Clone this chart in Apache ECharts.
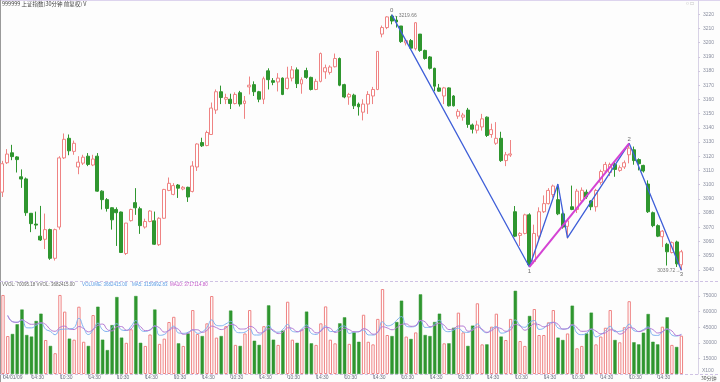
<!DOCTYPE html>
<html><head><meta charset="utf-8">
<script src="https://cdn.jsdelivr.net/npm/echarts@6/dist/echarts.min.js"></script>
<style>html,body{margin:0;padding:0;background:#fdfdfd}#c{width:720px;height:382px}</style>
</head><body><div id="c"></div>
<script>
// ---- data ----
const opens = [
3094.7,3115.4,3122.4,3119.5,3105.5,3104.0,3079.8,3072.2,3063.7,3061.5,
3068.3,3048.1,3070.1,3118.8,3132.6,3123.4,3112.4,3115.1,3120.0,3113.8,
3120.0,3095.4,3089.4,3083.7,3082.5,3080.7,3051.5,3074.6,3087.3,3083.0,
3070.1,3074.0,3074.5,3057.7,3076.3,3095.9,3093.1,3099.7,3096.9,3098.1,
3095.2,3112.4,3129.6,3127.5,3135.3,3152.5,3165.4,3160.1,3160.1,3157.1,
3164.7,3157.1,3168.8,3170.4,3165.4,3160.1,3180.1,3173.2,3172.3,3175.0,
3167.7,3175.0,3180.8,3170.9,3180.3,3175.5,3167.0,3172.7,3179.4,3179.0,
3183.0,3188.8,3170.4,3161.7,3163.0,3156.7,3151.0,3156.7,3162.4,3167.0,
3206.0,3210.6,3218.6,3215.9,3211.7,3199.8,3201.4,3195.7,3206.0,3194.5,
3189.9,3181.9,3168.1,3162.4,3168.1,3162.4,3148.2,3147.5,3152.5,3142.0,
3138.3,3140.6,3147.5,3135.3,3129.1,3132.6,3116.9,3120.8,3080.9,3064.2,
3065.6,3078.7,3045.8,3063.7,3080.9,3086.6,3093.0,3089.4,3079.4,3070.6,
3084.4,3082.5,3088.5,3094.7,3088.5,3084.4,3101.6,3109.6,3108.5,3114.2,
3110.0,3112.4,3121.0,3124.5,3117.6,3113.5,3100.4,3080.2,3071.1,3063.3,
3058.0,3052.2,3059.6,3043.5];
const closes = [
3114.7,3121.5,3119.7,3117.6,3103.9,3080.2,3072.5,3071.5,3061.0,3068.3,
3048.1,3068.3,3118.8,3131.9,3123.8,3129.1,3115.8,3119.3,3114.2,3118.0,
3095.4,3089.4,3083.2,3075.2,3080.2,3052.2,3072.9,3082.5,3083.7,3071.1,
3074.0,3081.4,3058.0,3076.3,3096.6,3100.9,3099.3,3097.5,3098.1,3091.3,
3113.1,3128.6,3127.3,3136.7,3153.9,3165.4,3161.3,3161.3,3157.1,3163.5,
3156.7,3158.9,3170.0,3165.4,3160.1,3174.6,3173.9,3172.0,3175.0,3163.5,
3175.0,3180.8,3171.1,3173.9,3175.5,3167.0,3172.7,3192.3,3182.3,3182.8,
3188.8,3170.0,3161.7,3163.5,3155.5,3154.8,3156.7,3163.5,3167.0,3193.8,
3210.6,3218.1,3215.2,3214.5,3200.7,3201.4,3196.1,3214.0,3194.5,3188.8,
3181.9,3169.3,3165.8,3168.1,3155.5,3155.5,3151.6,3149.0,3142.4,3139.0,
3142.0,3146.3,3134.6,3138.7,3132.6,3116.9,3121.0,3121.6,3063.7,3065.6,
3078.7,3043.6,3065.6,3080.9,3086.6,3095.9,3099.0,3079.4,3070.1,3074.5,
3082.5,3095.4,3096.0,3091.3,3084.4,3095.9,3109.2,3114.2,3114.2,3110.7,
3111.9,3115.4,3125.7,3116.9,3114.7,3109.6,3080.9,3071.1,3063.7,3067.2,
3052.7,3059.1,3044.2,3052.7];
const lows = [
3091.3,3114.5,3117.2,3108.5,3097.7,3078.0,3066.5,3068.6,3060.3,3054.6,
3047.0,3046.5,3068.3,3118.0,3120.7,3121.0,3107.3,3113.8,3113.0,3113.0,
3095.0,3082.5,3081.0,3068.3,3056.8,3051.8,3050.4,3074.0,3078.7,3065.3,
3069.0,3073.5,3057.5,3056.8,3076.0,3095.4,3092.5,3090.6,3096.0,3087.8,
3094.5,3109.6,3126.5,3127.0,3135.0,3149.8,3156.7,3156.7,3153.2,3156.5,
3155.0,3146.3,3163.5,3162.4,3158.0,3156.7,3167.0,3170.0,3165.6,3163.0,
3167.0,3172.7,3168.0,3164.0,3174.5,3166.3,3166.5,3172.0,3174.5,3177.5,
3182.5,3169.3,3160.8,3156.2,3153.2,3148.6,3145.2,3149.8,3156.7,3166.5,
3203.7,3209.5,3212.9,3210.6,3199.8,3198.0,3195.5,3194.5,3193.5,3188.0,
3181.0,3165.8,3165.4,3156.7,3155.0,3155.0,3146.3,3145.0,3140.0,3136.0,
3136.0,3138.0,3133.5,3133.0,3128.0,3116.0,3113.0,3119.5,3063.0,3056.8,
3065.0,3042.0,3044.5,3061.0,3080.0,3086.0,3091.0,3078.5,3069.0,3062.0,
3082.0,3080.0,3087.0,3090.0,3082.0,3081.0,3100.0,3108.0,3106.0,3105.5,
3109.0,3111.0,3115.0,3114.0,3110.0,3108.5,3080.0,3070.0,3063.0,3056.0,
3043.0,3051.5,3042.0,3039.72];
const highs = [
3116.7,3125.0,3128.0,3120.0,3110.7,3105.0,3080.0,3081.0,3085.0,3079.6,
3069.0,3069.0,3120.0,3136.0,3135.3,3131.0,3120.0,3121.0,3122.2,3121.0,
3122.2,3096.0,3090.5,3084.0,3084.0,3081.0,3073.0,3083.0,3097.5,3084.4,
3076.0,3082.0,3081.0,3077.0,3097.0,3105.0,3101.0,3100.4,3099.0,3098.5,
3116.5,3129.1,3133.0,3138.0,3157.8,3167.0,3169.7,3164.0,3164.0,3165.0,
3166.0,3162.4,3176.1,3172.7,3166.0,3176.0,3181.9,3175.0,3178.5,3175.5,
3183.0,3183.5,3182.5,3175.5,3182.3,3176.0,3174.5,3193.0,3184.5,3184.0,
3192.3,3189.5,3171.0,3164.6,3164.0,3157.8,3160.1,3165.8,3168.8,3194.0,
3212.0,3218.6,3219.66,3218.6,3211.7,3202.5,3202.5,3214.5,3206.0,3195.0,
3190.5,3182.3,3170.9,3168.8,3168.5,3163.0,3153.2,3150.5,3154.0,3143.0,
3145.0,3149.8,3148.0,3142.9,3144.0,3137.2,3123.0,3131.4,3084.9,3066.5,
3079.5,3079.8,3071.8,3084.0,3092.4,3097.5,3100.0,3100.4,3080.5,3076.0,
3099.3,3097.0,3098.0,3096.5,3089.0,3097.0,3110.5,3116.0,3115.5,3116.0,
3113.5,3117.0,3129.1,3126.8,3118.5,3114.0,3103.0,3081.0,3072.0,3068.0,
3059.0,3060.0,3060.5,3054.0];
const volumes = [
76000,36500,38500,47800,62000,37500,36000,51000,58000,32700,
27000,20000,76000,60000,34000,33000,64700,31000,27000,56700,
64700,33000,23000,47000,74000,35000,30000,43000,75000,30000,
27000,38000,62000,29000,34000,50000,55000,29500,27000,39000,
61500,38500,36500,48700,75000,35000,36500,46000,61000,28000,
27000,39000,61500,32000,28000,46000,66000,33000,28000,41700,
69500,33000,30000,43000,60000,29500,28000,48700,65000,33000,
29500,48700,54500,29000,40000,31000,57000,31000,28500,53000,
81700,37500,36500,50000,70500,36000,33700,40000,76600,37500,
36500,50000,58000,29500,29500,44500,59000,40000,27000,46500,
68000,28500,28500,45500,58000,36000,32700,53000,80000,31700,
27000,55800,62500,37500,37500,49700,61500,35000,32700,39000,
65700,24700,27000,39000,59000,28500,36000,44500,61500,32700,
30500,45000,70000,30500,28500,39700,57700,31000,28500,45500,
54500,28000,26000,36824];
const tickPos  = [0,6,12,18,24,30,36,42,48,54,60,66,72,78,84,90,96,102,108,114,120,126,132,138];
const tickText = ['04/01/09','14:30','10:30','14:30','10:30','14:30','10:30','14:30','10:30','14:30','10:30','14:30',
                  '10:30','14:30','10:30','14:30','10:30','14:30','10:30','14:30','10:30','14:30','10:30','14:30'];
const slotCount = 147;
const zigIdx = [82,111,117,119,132,143];
const zigVal = [3219.66,3042.0,3100.4,3062.5,3129.1,3039.72];
const magIdx = [111,132];
const magVal = [3042.0,3129.1];
const pivotIdx = [82,111,132,143];
const pivotVal = [3219.66,3042.0,3129.1,3039.72];
const pivotName = ['0','1','2','3'];
const pivotPos = ['top','bottom','top','bottom'];

// ---- derived ----
const cats = Array.from({length: slotCount}, () => '');
tickPos.forEach((p, k) => { cats[p] = tickText[k]; });
const candles = opens.map((o, i) => [o, closes[i], lows[i], highs[i]]);
const UP = '#ef8383', DOWN = '#2f962f';
const volData = volumes.map((v, i) => {
  const up = closes[i] >= opens[i];
  return {value: v, itemStyle: up ? {color: '#ffffff', borderColor: UP, borderWidth: 1}
                                   : {color: DOWN, borderColor: DOWN, borderWidth: 0.5}};
});
function ma(n) {
  return volumes.map((v, i) => {
    if (i < 1) return '-';
    const s = Math.max(0, i - n + 1);
    let sum = 0; for (let k = s; k <= i; k++) sum += volumes[k];
    return +(sum / (i - s + 1)).toFixed(1);
  });
}
const F = 'Liberation Sans, DejaVu Sans, sans-serif';
const CJK = 'Noto Sans CJK SC, sans-serif';
const showTick = (i, v) => v !== '';
const plain = v => String(v);

const chart = echarts.init(document.getElementById('c'), null, {renderer: 'canvas'});
chart.setOption({
  animation: false,
  backgroundColor: '#fdfdfd',
  grid: [
    {left: 0, right: 22, top: -6.5, height: 290.5},
    {left: 0, right: 22, top: 280.4, height: 93.6}
  ],
  xAxis: [
    {type: 'category', gridIndex: 0, data: cats, boundaryGap: true,
     axisLine: {show: false}, axisTick: {show: false}, axisLabel: {show: false}, splitLine: {show: false}},
    {type: 'category', gridIndex: 1, data: cats, boundaryGap: true,
     axisLine: {show: false},
     axisTick: {show: true, interval: showTick, alignWithLabel: true, length: 4, lineStyle: {color: '#b8b8c8'}},
     axisLabel: {show: true, interval: showTick, align: 'left', fontSize: 5, color: '#6c7080', margin: 1.5, fontFamily: F},
     splitLine: {show: false}}
  ],
  yAxis: [
    {type: 'value', gridIndex: 0, position: 'right', min: 3030, max: 3230, interval: 10,
     axisLine: {show: true, lineStyle: {color: '#d8d2e6'}},
     axisTick: {show: true, length: 2, lineStyle: {color: '#d0c8de'}},
     splitLine: {show: false},
     axisLabel: {fontSize: 5, color: '#8a8fa0', margin: 5, showMinLabel: false, showMaxLabel: false, fontFamily: F, formatter: plain}},
    {type: 'value', gridIndex: 1, position: 'right', min: 0, max: 90000, interval: 15000,
     axisLine: {show: true, lineStyle: {color: '#d8d2e6'}},
     axisTick: {show: true, length: 2, lineStyle: {color: '#d0c8de'}},
     splitLine: {show: false},
     axisLabel: {fontSize: 5, color: '#8a8fa0', margin: 5, showMinLabel: false, showMaxLabel: false, fontFamily: F, formatter: plain}}
  ],
  series: [
    {type: 'candlestick', xAxisIndex: 0, yAxisIndex: 0, data: candles, barWidth: '72%',
     itemStyle: {color: '#ffffff', color0: DOWN, borderColor: UP, borderColor0: DOWN, borderWidth: 1}},
    {type: 'line', xAxisIndex: 0, yAxisIndex: 0, data: zigIdx.map((x, i) => [x, zigVal[i]]),
     symbol: 'none', lineStyle: {color: '#3f5fd8', width: 1.3}, z: 5},
    {type: 'line', xAxisIndex: 0, yAxisIndex: 0, data: magIdx.map((x, i) => [x, magVal[i]]),
     symbol: 'none', lineStyle: {color: '#d443d4', width: 2}, z: 6},
    {type: 'scatter', xAxisIndex: 0, yAxisIndex: 0, symbolSize: 0, z: 7,
     data: pivotIdx.map((x, i) => ({value: [x, pivotVal[i]],
       label: {show: true, position: pivotPos[i], distance: 1, formatter: pivotName[i],
               fontSize: 6, color: '#444', fontFamily: F}}))},
    {type: 'scatter', xAxisIndex: 0, yAxisIndex: 0, symbolSize: 0, z: 7,
     data: [
       {value: [pivotIdx[0], pivotVal[0]], label: {show: true, position: 'right', distance: 2,
         formatter: '\u2190' + pivotVal[0].toFixed(2), fontSize: 5, color: '#555', fontFamily: F, offset: [0, 1]}},
       {value: [pivotIdx[3], pivotVal[3]], label: {show: true, position: 'left', distance: 1,
         formatter: pivotVal[3].toFixed(2) + '\u2192', fontSize: 5, color: '#555', fontFamily: F}}
     ]},
    {type: 'bar', xAxisIndex: 1, yAxisIndex: 1, data: volData, barWidth: '70%'},
    {type: 'line', xAxisIndex: 1, yAxisIndex: 1, data: ma(5), symbol: 'none', smooth: true,
     lineStyle: {color: '#7fb2f0', width: 1}, z: 4},
    {type: 'line', xAxisIndex: 1, yAxisIndex: 1, data: ma(10), symbol: 'none', smooth: true,
     lineStyle: {color: '#b57ad4', width: 1}, z: 4}
  ],
  graphic: [
    {type: 'line', shape: {x1: 0, y1: 0.5, x2: 720, y2: 0.5}, style: {stroke: '#ddd4ee', lineWidth: 1}},
    {type: 'line', shape: {x1: 0.5, y1: 0, x2: 0.5, y2: 382}, style: {stroke: '#9a9a9a', lineWidth: 1}},
    {type: 'line', shape: {x1: 0, y1: 281.5, x2: 720, y2: 281.5}, style: {stroke: '#cfc2e4', lineWidth: 1, lineDash: [3, 2]}},
    {type: 'line', shape: {x1: 0, y1: 374.5, x2: 720, y2: 374.5}, style: {stroke: '#cfc2e4', lineWidth: 1, lineDash: [3, 2]}},
    {type: 'text', left: 2, top: 1.5, style: {text: '999999 上证指数(30分钟 前复权) V', fontSize: 5.5, fill: '#444', fontFamily: CJK}},
    {type: 'text', left: 686, top: 1.5, style: {text: '○ □', fontSize: 5, fill: '#999', fontFamily: F}},
    {type: 'text', left: 2, top: 282.5, style: {text: 'VVOL: 70095.18 VVOL: 3682415.00', fontSize: 4.5, fill: '#666', fontFamily: F}},
    {type: 'text', left: 82, top: 282.5, style: {text: 'VOLUME: 3682415.00', fontSize: 4.5, fill: '#5b9de6', fontFamily: F}},
    {type: 'text', left: 132, top: 282.5, style: {text: 'MA5: 3159992.83', fontSize: 4.5, fill: '#5b9de6', fontFamily: F}},
    {type: 'text', left: 170, top: 282.5, style: {text: 'MA10: 3717114.80', fontSize: 4.5, fill: '#c356c8', fontFamily: F}},
    {type: 'text', left: 702, top: 368.5, style: {text: 'X100', fontSize: 5, fill: '#8a8fa0', fontFamily: F}},
    {type: 'text', left: 701, top: 375.5, style: {text: '30分钟', fontSize: 5, fill: '#555', fontFamily: CJK}}
  ]
});
</script>
</body></html>
